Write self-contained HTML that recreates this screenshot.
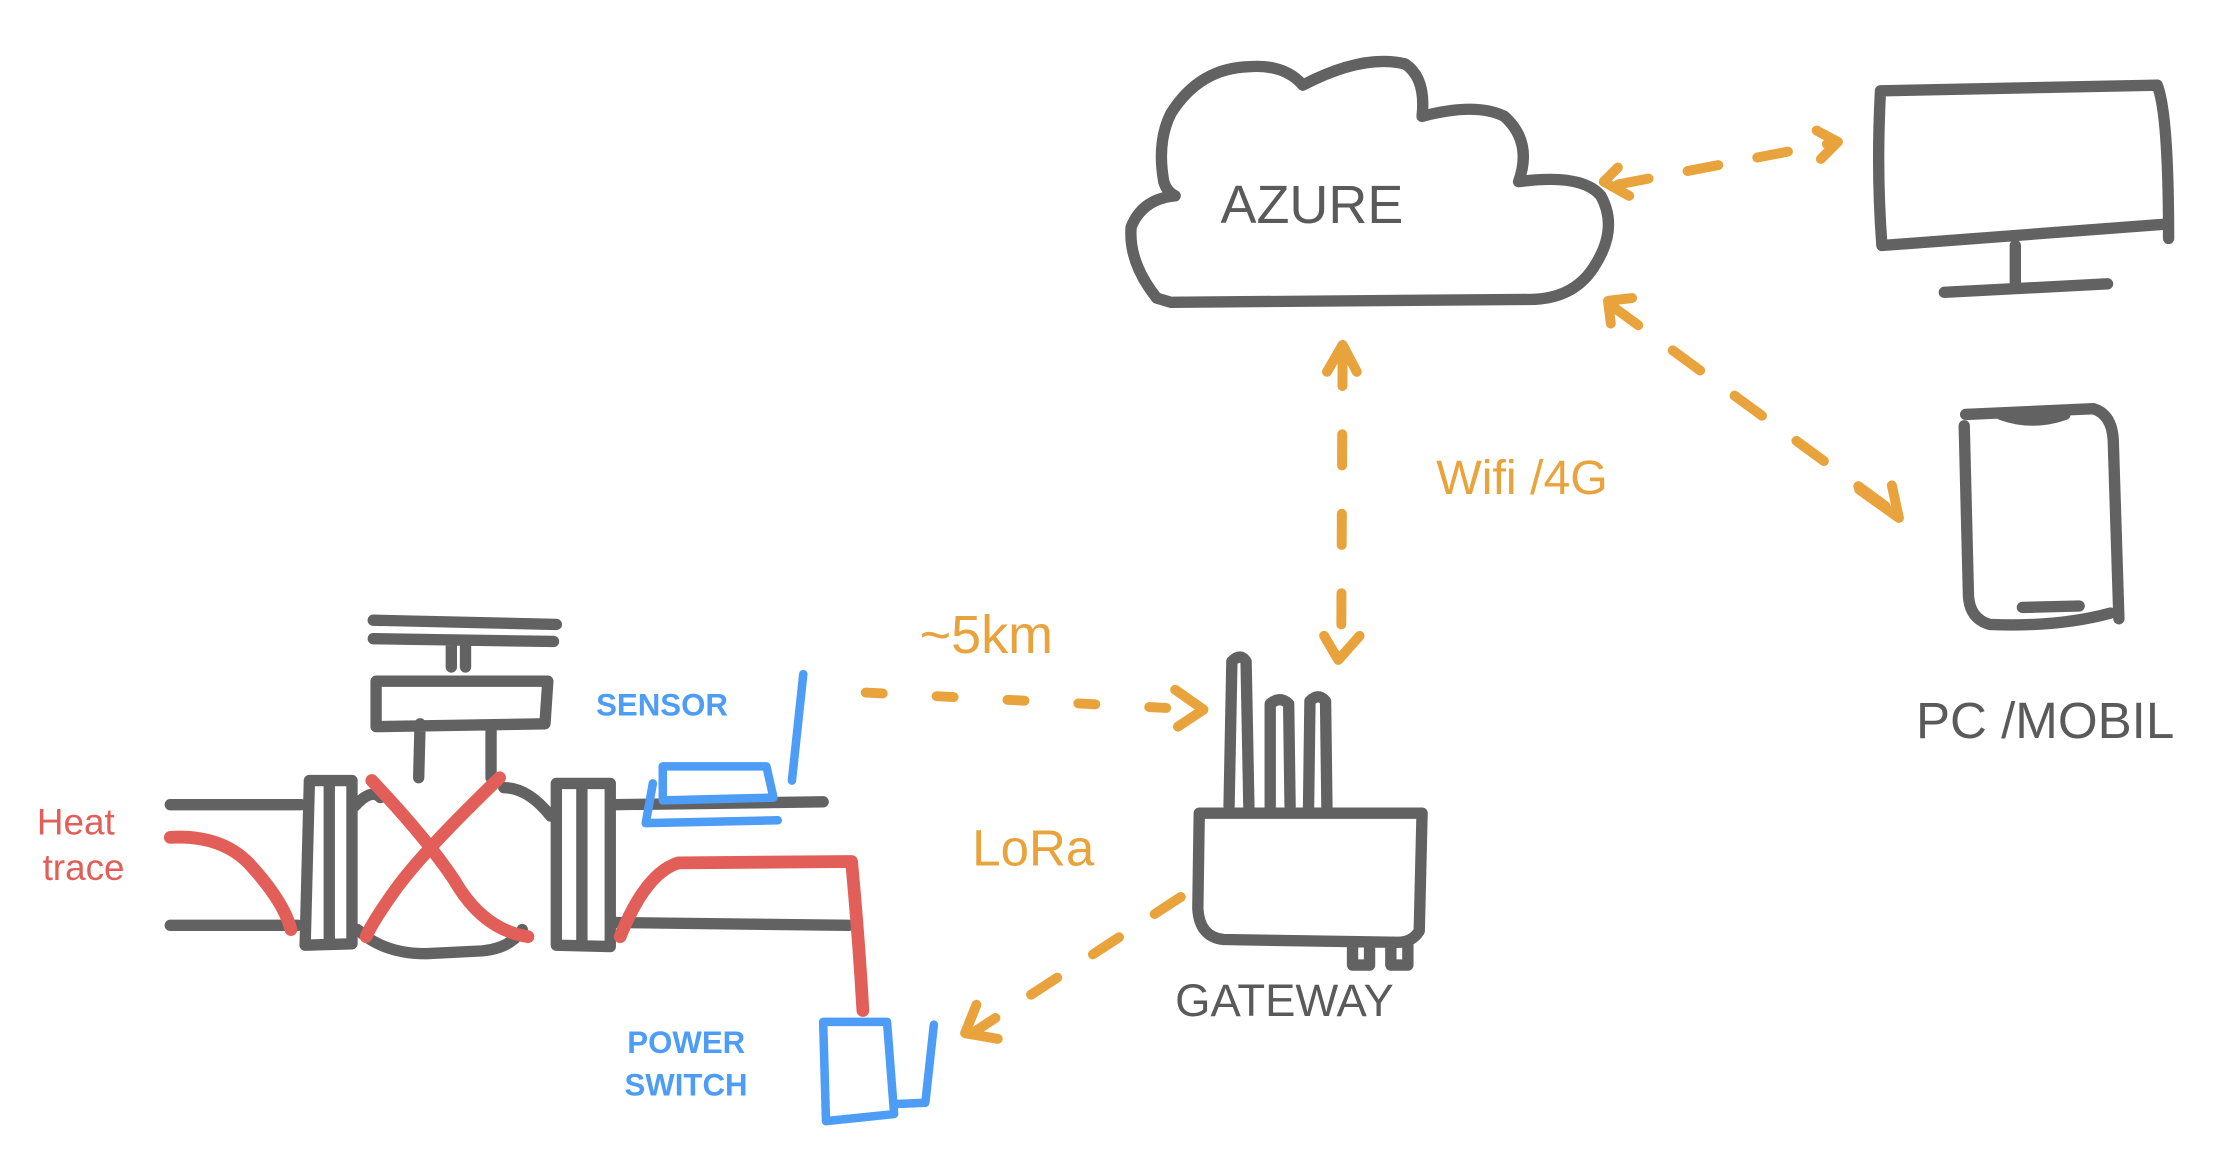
<!DOCTYPE html>
<html><head><meta charset="utf-8"><style>
html,body{margin:0;padding:0;background:#fff;}
svg{display:block;}
text{font-family:"Liberation Sans",sans-serif;}
</style></head><body>
<svg width="2214" height="1168" viewBox="0 0 1560 823" preserveAspectRatio="none" xmlns="http://www.w3.org/2000/svg">
<g fill="none" stroke="#626262" stroke-width="8" stroke-linecap="round" stroke-linejoin="round">
<path d="M825,213 L1075,211 Q1110,212 1125,185 Q1140,160 1128,138 Q1115,122 1070,128 Q1080,100 1060,82 Q1040,72 1002,82 Q1005,55 990,45 Q960,38 918,60 Q905,45 880,47 Q845,48 825,80 Q815,100 820,128 Q822,135 828,138 Q805,140 797,160 Q795,185 815,210 L825,213"/>
<path d="M1325,64 L1520,60 Q1528,80 1528,168 M1325,64 Q1322,120 1326,173 L1525,158 M1420,173 L1420,203 M1370,206 L1485,200"/>
<path d="M1385,292 L1475,288 Q1488,292 1489,310 L1493,436 M1384,300 L1387,420 Q1388,436 1402,440 Q1450,442 1487,432 M1410,292 Q1432,300 1455,292 M1425,428 L1465,427"/>
<path d="M845,573 L1002,573 L1000,656 Q995,664 985,664 L862,662 Q845,660 844,640 Z M866,568 L868,466 Q874,460 878,466 L880,570 M895,568 L895,496 Q902,490 908,496 L909,568 M922,570 L923,494 Q929,488 934,494 L935,572 M953,664 L953,680 L965,680 L965,664 M980,664 L980,680 L992,680 L992,664"/>
<path d="M120,567 L212,567 M120,652 L210,652 M218,550 L248,550 L248,665 L215,666 Z M232,552 L232,664 M250,568 Q262,555 268,562 M252,655 Q270,672 300,672 L340,670 Q360,668 368,655 M355,555 Q372,555 388,575 M392,552 L430,552 L430,667 L392,666 Z M410,554 L410,666 M432,567 L580,565 M432,650 L598,652 M296,510 L295,548 M346,512 L346,548 M265,480 L386,480 L384,510 L265,512 Z M263,437 L392,440 M263,450 L390,452 M318,452 L318,470 M328,452 L328,470"/>
</g>
<g fill="none" stroke="#e25f59" stroke-width="9" stroke-linecap="round" stroke-linejoin="round">
<path d="M120,590 Q155,588 175,608 Q200,635 205,655 M262,550 Q300,590 320,620 Q340,655 372,660 M352,548 Q300,598 280,625 Q262,650 258,660 M437,660 Q455,615 478,608 L600,607 Q605,660 608,712"/>
</g>
<g fill="none" stroke="#4d9cf5" stroke-width="6" stroke-linecap="round" stroke-linejoin="round">
<path d="M566,475 L558,550 M467,540 L540,540 L545,562 L467,564 Z M460,552 L455,580 L548,578 M580,720 L625,720 L630,785 L582,790 Z M630,778 L652,777 L658,722"/>
</g>
<g fill="none" stroke="#e8a33d" stroke-width="7" stroke-linecap="round" stroke-linejoin="round">
<path d="M1140,130 L1295,100" stroke-dasharray="22 28"/>
<path d="M1140,118 L1130,128 L1148,138 M1280,92 L1295,100 L1283,112"/>
<path d="M1135,215 L1340,365" stroke-dasharray="24 30"/>
<path d="M1135,228 L1133,212 L1150,210 M1310,345 L1338,365 L1333,342"/>
<path d="M946,250 L945,462" stroke-dasharray="22 34"/>
<path d="M935,262 L946,243 L956,262 M933,448 L943,465 L958,448"/>
<path d="M610,488 L845,500" stroke-dasharray="12 38"/>
<path d="M828,486 L848,500 L830,512"/>
<path d="M832,632 L685,728" stroke-dasharray="22 30"/>
<path d="M688,708 L680,728 L703,732"/>
</g>
<g font-size="38" fill="#5a5a5a">
<text x="860" y="157">AZURE</text>
<text x="1350" y="520" font-size="36">PC /MOBIL</text>
<text x="828" y="716" font-size="32">GATEWAY</text>
</g>
<g fill="#e8a33d">
<text x="1012" y="348" font-size="34">Wifi /4G</text>
<text x="648" y="460" font-size="38">~5km</text>
<text x="685" y="610" font-size="36">LoRa</text>
</g>
<g fill="#e25f59" font-size="26">
<text x="26" y="588">Heat</text>
<text x="30" y="620">trace</text>
</g>
<g fill="#4d9cf5" font-size="22" font-weight="bold">
<text x="420" y="504">SENSOR</text>
<text x="442" y="742">POWER</text>
<text x="440" y="772">SWITCH</text>
</g>
</svg>
</body></html>
